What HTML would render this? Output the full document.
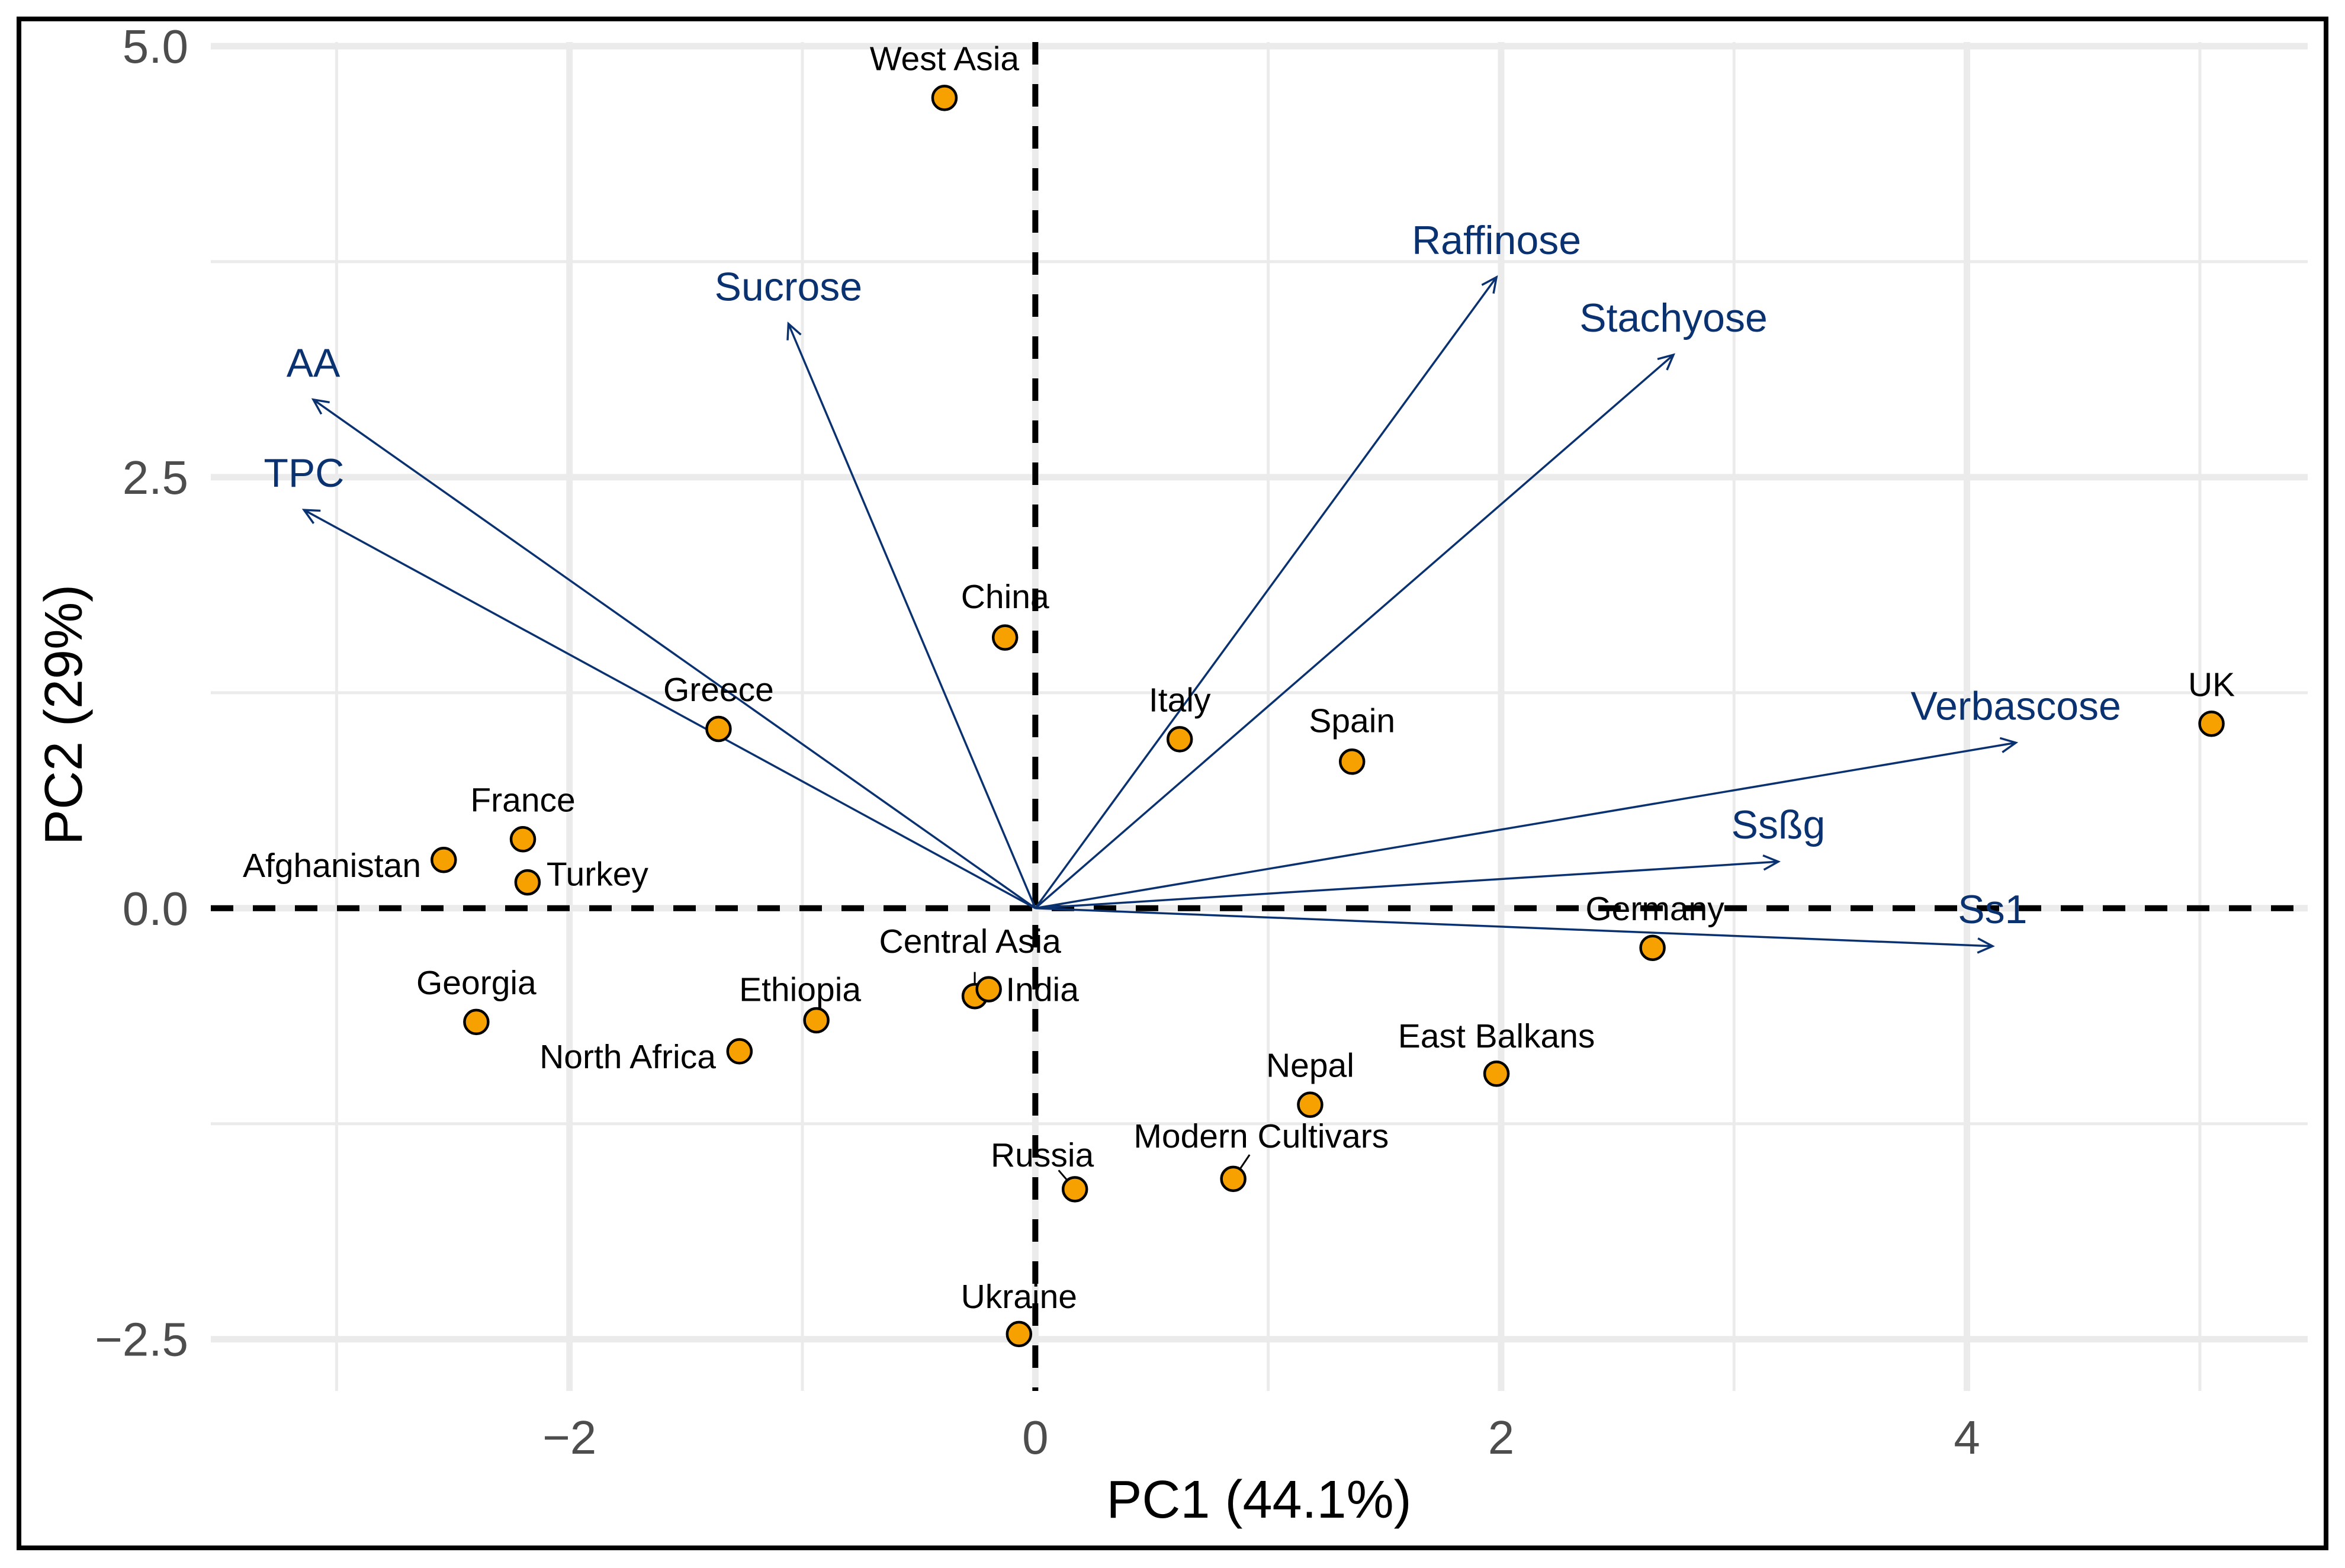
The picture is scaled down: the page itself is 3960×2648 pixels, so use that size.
<!DOCTYPE html>
<html><head><meta charset="utf-8"><style>
html,body{margin:0;padding:0;background:#fff;}
svg{display:block;font-family:"Liberation Sans",sans-serif;}
</style></head>
<body>
<svg id="chart" width="3960" height="2648" viewBox="0 0 3960 2648" xmlns="http://www.w3.org/2000/svg">
<rect x="32" y="32" width="3896" height="2582" fill="#fff" stroke="#000" stroke-width="8"/>
<g id="grid"></g><g id="ref"></g><g id="arrows"></g><g id="segs"></g><g id="pts"></g><g id="labs"></g><g id="axes"></g>
</svg>
<script>
const pointNames = ["West Asia","China","Greece","Italy","Spain","UK","France","Afghanistan","Turkey","Germany","Georgia","Ethiopia","Central Asia","India","North Africa","East Balkans","Nepal","Modern Cultivars","Russia","Ukraine"];
const pc1 = [-0.39,-0.13,-1.36,0.62,1.36,5.05,-2.20,-2.54,-2.18,2.65,-2.40,-0.94,-0.26,-0.20,-1.27,1.98,1.18,0.85,0.17,-0.07];
const pc2 = [4.70,1.57,1.04,0.98,0.85,1.07,0.40,0.28,0.15,-0.23,-0.66,-0.65,-0.51,-0.47,-0.83,-0.96,-1.14,-1.57,-1.63,-2.47];
const labelX = [-0.39,-0.13,-1.36,0.62,1.36,5.05,-2.20,-3.02,-1.88,2.66,-2.40,-1.01,-0.28,0.03,-1.75,1.98,1.18,0.97,0.03,-0.07];
const labelY = [4.93,1.81,1.27,1.21,1.09,1.30,0.63,0.25,0.20,0.00,-0.43,-0.47,-0.19,-0.47,-0.86,-0.74,-0.91,-1.32,-1.43,-2.25];
const varNames = ["AA","TPC","Sucrose","Raffinose","Stachyose","Verbascose","Ssßg","Ss1"];
const varX = [-3.10,-3.14,-1.06,1.98,2.74,4.21,3.19,4.11];
const varY = [2.95,2.31,3.39,3.66,3.21,0.96,0.27,-0.22];
const xTicks = [-2,0,2,4];
const xTickLabels = ["\u22122","0","2","4"];
const yTicks = [-2.5,0,2.5,5];
const yTickLabels = ["\u22122.5","0.0","2.5","5.0"];
const xMinor = [-3,-1,1,3,5];
const yMinor = [-1.25,1.25,3.75];

const X0=356,X1=3897,Y0=71,Y1=2349;
const xmin=-3.54,xmax=5.463,ymin=-2.80,ymax=5.024;
const sx=v=>X0+(v-xmin)/(xmax-xmin)*(X1-X0);
const sy=v=>Y1-(v-ymin)/(ymax-ymin)*(Y1-Y0);
const NS="http://www.w3.org/2000/svg";
function mk(tag,attrs,parent,txt){const e=document.createElementNS(NS,tag);for(const k in attrs)e.setAttribute(k,attrs[k]);if(txt!==undefined)e.textContent=txt;document.getElementById(parent).appendChild(e);return e;}

xMinor.forEach(v=>{const e=mk('line',{x1:sx(v),x2:sx(v),y1:Y0,y2:Y1,stroke:'#ebebeb','stroke-width':5},'grid');

});
yMinor.forEach(v=>{const e=mk('line',{x1:X0,x2:X1,y1:sy(v),y2:sy(v),stroke:'#ebebeb','stroke-width':5},'grid');

});
xTicks.forEach((v,i)=>{const e=mk('line',{x1:sx(v),x2:sx(v),y1:Y0,y2:Y1,stroke:'#ebebeb','stroke-width':11},'grid');


const t=mk('text',{x:sx(v),y:2455,'text-anchor':'middle','font-size':80,fill:'#4d4d4d'},'axes',xTickLabels[i]);

});
yTicks.forEach((v,i)=>{const e=mk('line',{x1:X0,x2:X1,y1:sy(v),y2:sy(v),stroke:'#ebebeb','stroke-width':11},'grid');


const t=mk('text',{x:318,y:sy(v)+28,'text-anchor':'end','font-size':80,fill:'#4d4d4d'},'axes',yTickLabels[i]);

});

let r=mk('line',{x1:X0,x2:X1,y1:sy(0),y2:sy(0),stroke:'#000','stroke-width':10,'stroke-dasharray':'38 33'},'ref');


r=mk('line',{x1:sx(0),x2:sx(0),y1:Y0,y2:Y1,stroke:'#000','stroke-width':10,'stroke-dasharray':'38 33'},'ref');



const AC='#0b3270';
varNames.forEach((n,i)=>{
  const x0=sx(0),y0=sy(0),x1=sx(varX[i]),y1=sy(varY[i]);
  const a=Math.atan2(y1-y0,x1-x0),L=28,w=0.45;
  const g=mk('g',{},'arrows');
  
  
  const d=`M${x0},${y0}L${x1},${y1}M${x1-L*Math.cos(a-w)},${y1-L*Math.sin(a-w)}L${x1},${y1}L${x1-L*Math.cos(a+w)},${y1-L*Math.sin(a+w)}`;
  const p=document.createElementNS(NS,'path');p.setAttribute('d',d);p.setAttribute('stroke',AC);p.setAttribute('stroke-width',3.5);p.setAttribute('fill','none');g.appendChild(p);
  const t=mk('text',{x:x1,y:y1-63+24,'text-anchor':'middle','font-size':68,fill:AC},'labs',n);
  
  
});

// leader segments for repelled labels
[["Central Asia",-0.26,-0.37],["Russia",0.10,-1.52],["Modern Cultivars",0.92,-1.43]].forEach(s=>{
  const i=pointNames.indexOf(s[0]);
  const e=mk('line',{x1:sx(s[1]),y1:sy(s[2]),x2:sx(pc1[i]),y2:sy(pc2[i]),stroke:'#000','stroke-width':3},'segs');
  
  
});

pointNames.forEach((n,i)=>{
  const c=mk('circle',{cx:sx(pc1[i]),cy:sy(pc2[i]),r:20,fill:'#f7a100',stroke:'#000','stroke-width':4.5},'pts');
  
  
  const t=mk('text',{x:sx(labelX[i]),y:sy(labelY[i])+20,'text-anchor':'middle','font-size':57,fill:'#000'},'labs',n);
  
  
});

let t=mk('text',{x:2126,y:2563,'text-anchor':'middle','font-size':90,fill:'#000'},'axes','PC1 (44.1%)');


t=mk('text',{x:0,y:0,'text-anchor':'middle','font-size':90,fill:'#000',transform:'translate(138,1207) rotate(-90)'},'axes','PC2 (29%)');


</script>
</body></html>
